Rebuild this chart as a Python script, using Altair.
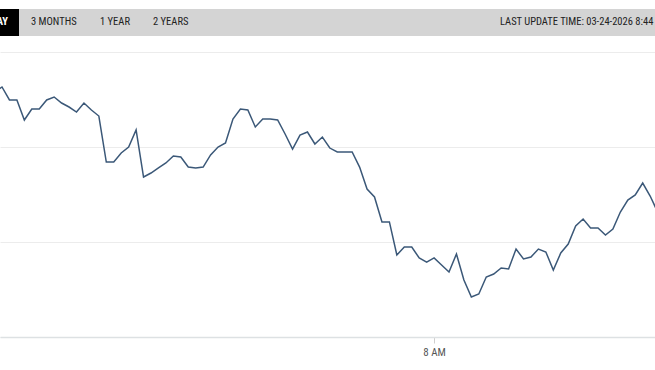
import altair as alt
import pandas as pd

# ---- data (5-minute samples, minutes since midnight) ----
start_minute = 185
step_minutes = 5
prices = [
    125.79, 126.32, 124.95, 124.95, 122.84, 124.00, 124.00, 124.95, 125.26, 124.63,
    124.21, 123.68, 124.63, 123.89, 123.26, 118.42, 118.42, 119.37, 120.00, 121.79,
    116.84, 117.26, 117.79, 118.32, 119.05, 118.95, 117.89, 117.79, 117.89, 119.16,
    120.00, 120.42, 122.95, 124.00, 123.89, 122.11, 122.95, 122.95, 122.84, 121.37,
    119.79, 121.26, 121.58, 120.32, 121.05, 119.89, 119.47, 119.47, 119.47, 117.89,
    115.58, 114.74, 112.11, 112.11, 108.63, 109.47, 109.47, 108.32, 107.89, 108.32,
    107.58, 106.84, 108.74, 106.00, 104.21, 104.53, 106.32, 106.63, 107.26, 107.16,
    109.26, 108.21, 108.42, 109.26, 108.95, 107.05, 108.84, 109.79, 111.68, 112.42,
    111.47, 111.47, 110.74, 111.37, 113.16, 114.42, 114.95, 116.21, 114.84, 113.16,
]
minutes = [start_minute + step_minutes * i for i in range(len(prices))]

grid_values = [100, 110, 120, 130]
x_tick_values = [480]
x_tick_labels = ["8 AM"]

tab_labels = ["DAY", "3 MONTHS", "1 YEAR", "2 YEARS"]
tab_x = [8, 31, 100, 153]
update_text = ["LAST UPDATE TIME: 03-24-2026 8:44 AM"]

FONT = "Liberation Sans Narrow, Roboto Condensed, Arial Narrow, sans-serif"

df = pd.DataFrame({"minute": minutes, "price": prices})

line = alt.Chart(df).mark_line(color="#3b5878", strokeWidth=1.5, clip=True).encode(
    x=alt.X(
        "minute:Q",
        scale=alt.Scale(domain=[188.66, 628.25], nice=False, zero=False),
        axis=alt.Axis(
            values=x_tick_values,
            labelExpr="'" + x_tick_labels[0] + "'",
            grid=False,
            domain=True,
            domainColor="#dde1e3",
            domainWidth=1.5,
            tickColor="#cfcfcf",
            tickSize=6,
            labelColor="#555555",
            labelFont=FONT,
            labelFontSize=11,
            labelPadding=3,
            title=None,
        ),
    ),
    y=alt.Y(
        "price:Q",
        scale=alt.Scale(domain=[100, 130], nice=False, zero=False),
        axis=alt.Axis(
            values=grid_values,
            labels=False,
            ticks=False,
            domain=False,
            grid=True,
            gridColor="#ececec",
            gridWidth=1,
            title=None,
        ),
    ),
)

one = pd.DataFrame({"k": [0]})

bar = alt.Chart(one).mark_rect(color="#d4d4d4").encode(
    x=alt.value(0), x2=alt.value(655), y=alt.value(-43), y2=alt.value(-16)
)
active = alt.Chart(one).mark_rect(color="#000000").encode(
    x=alt.value(-20), x2=alt.value(19), y=alt.value(-43), y2=alt.value(-16)
)

tabs_df = pd.DataFrame({"label": tab_labels, "x": tab_x,
                        "active": [True, False, False, False]})

active_text = alt.Chart(tabs_df[tabs_df.active]).mark_text(
    align="right", baseline="middle", font=FONT, fontSize=10.5, fontWeight="bold",
    color="#ffffff"
).encode(x=alt.value(8), y=alt.value(-30), text="label:N")

tab_text = alt.Chart(tabs_df[~tabs_df.active]).mark_text(
    align="left", baseline="middle", font=FONT, fontSize=10.5, color="#222222"
).encode(
    x=alt.X("x:Q", scale=None), y=alt.value(-30), text="label:N"
)

upd = alt.Chart(pd.DataFrame({"t": update_text})).mark_text(
    align="left", baseline="middle", font=FONT, fontSize=10.5, color="#222222"
).encode(x=alt.value(500), y=alt.value(-30), text="t:N")

chart = alt.layer(line, bar, active, active_text, tab_text, upd).properties(
    width=655,
    height=285,
    padding={"left": 0, "right": 0, "top": 52, "bottom": 33},
    autosize=alt.AutoSizeParams(type="none"),
    background="#ffffff",
).configure_view(stroke=None)

chart.save("out.html", embed_options={"renderer": "svg", "actions": False})
